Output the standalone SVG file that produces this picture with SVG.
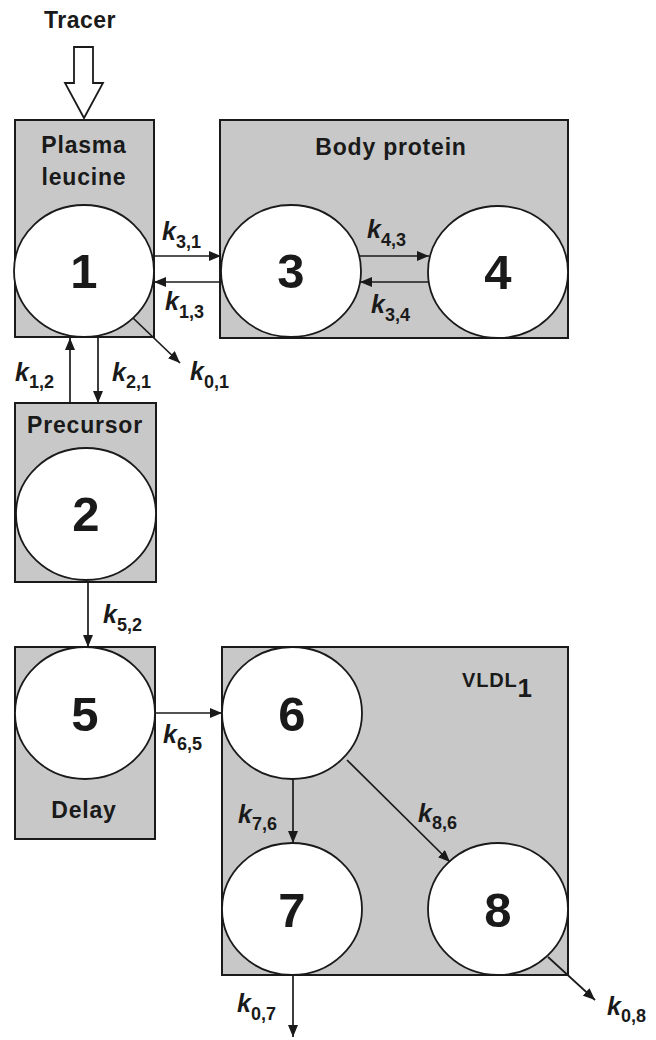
<svg xmlns="http://www.w3.org/2000/svg" width="656" height="1040" viewBox="0 0 656 1040">
<defs>
<marker id="ah" markerUnits="userSpaceOnUse" markerWidth="13" markerHeight="10" refX="12" refY="5" orient="auto">
<path d="M0,0 L12,5 L0,10 Z" fill="#1a1a1a"/>
</marker>
</defs>
<style>
.box{fill:#c8c8c8;stroke:#1a1a1a;stroke-width:2}
.cir{fill:#fff;stroke:#1a1a1a;stroke-width:1.8}
.lbl{font-family:"Liberation Sans",Arial,sans-serif;font-weight:bold;font-size:23px;letter-spacing:0.8px;fill:#1a1a1a;text-anchor:middle}
.num{font-family:"Liberation Sans",Arial,sans-serif;font-weight:bold;font-size:49px;fill:#1a1a1a;text-anchor:middle}
.k{font-family:"Liberation Sans",Arial,sans-serif;font-weight:bold;font-style:italic;font-size:25px;fill:#1a1a1a}
.sub{font-style:normal;font-size:18px}
.con{stroke:#1a1a1a;stroke-width:1.7;fill:none;marker-end:url(#ah)}
</style>
<rect width="656" height="1040" fill="#fff"/>

<g id="tracer">
<text class="lbl" x="80" y="28" style="letter-spacing:0.5px">Tracer</text>
<polygon points="74,47 93,47 93,83 103,83 84,118 65,83 74,83" fill="#fff" stroke="#1a1a1a" stroke-width="1.8"/>
</g>

<g id="plasma-leucine">
<rect class="box" x="15" y="120" width="139" height="217"/>
<text class="lbl" x="84" y="153">Plasma</text>
<text class="lbl" x="84" y="185">leucine</text>
</g>
<g id="body-protein">
<rect class="box" x="220" y="120" width="348" height="218"/>
<text class="lbl" x="391" y="155">Body protein</text>
</g>
<g id="precursor">
<rect class="box" x="15" y="403" width="141" height="179"/>
<text class="lbl" x="85" y="433">Precursor</text>
</g>
<g id="delay">
<rect class="box" x="15" y="647" width="140" height="192"/>
<text class="lbl" x="84" y="818">Delay</text>
</g>
<g id="vldl1">
<rect class="box" x="222" y="647" width="346" height="328"/>
<text class="lbl" x="462" y="687" style="text-anchor:start;font-size:20px">VLDL<tspan dy="10" style="font-size:26px">1</tspan></text>
</g>

<g id="c1"><ellipse class="cir" cx="84" cy="271" rx="70" ry="66"/><text class="num" x="84" y="288">1</text></g>
<g id="c3"><ellipse class="cir" cx="291" cy="271" rx="70" ry="66"/><text class="num" x="291" y="288">3</text></g>
<g id="c4"><ellipse class="cir" cx="498" cy="272" rx="70" ry="66"/><text class="num" x="498" y="289">4</text></g>
<g id="c2"><ellipse class="cir" cx="86" cy="514" rx="70" ry="66"/><text class="num" x="86" y="531">2</text></g>
<g id="c5"><ellipse class="cir" cx="85" cy="713" rx="70" ry="66"/><text class="num" x="85" y="731">5</text></g>
<g id="c6"><ellipse class="cir" cx="292" cy="713" rx="70" ry="66"/><text class="num" x="292" y="731">6</text></g>
<g id="c7"><ellipse class="cir" cx="292" cy="909" rx="70" ry="66"/><text class="num" x="292" y="927">7</text></g>
<g id="c8"><ellipse class="cir" cx="498" cy="909" rx="70" ry="66"/><text class="num" x="498" y="927">8</text></g>

<g id="connectors">
<line class="con" x1="154" y1="256" x2="221" y2="256"/>
<line class="con" x1="221" y1="282" x2="154" y2="282"/>
<line class="con" x1="360" y1="256" x2="429" y2="256"/>
<line class="con" x1="429" y1="282" x2="360" y2="282"/>
<line class="con" x1="133" y1="318" x2="180" y2="363"/>
<line class="con" x1="70" y1="403" x2="70" y2="338"/>
<line class="con" x1="98" y1="338" x2="98" y2="403"/>
<line class="con" x1="88" y1="582" x2="88" y2="647"/>
<line class="con" x1="155" y1="713" x2="222" y2="713"/>
<line class="con" x1="293" y1="779" x2="293" y2="843"/>
<line class="con" x1="347" y1="760" x2="450" y2="862"/>
<line class="con" x1="293" y1="975" x2="293" y2="1037"/>
<line class="con" x1="548" y1="957" x2="595" y2="1000"/>

<text class="k" x="162" y="240">k<tspan class="sub" dy="8">3,1</tspan></text>
<text class="k" x="165" y="310">k<tspan class="sub" dy="8">1,3</tspan></text>
<text class="k" x="367" y="238">k<tspan class="sub" dy="8">4,3</tspan></text>
<text class="k" x="371" y="313">k<tspan class="sub" dy="8">3,4</tspan></text>
<text class="k" x="190" y="380">k<tspan class="sub" dy="8">0,1</tspan></text>
<text class="k" x="15" y="381">k<tspan class="sub" dy="7">1,2</tspan></text>
<text class="k" x="112" y="381">k<tspan class="sub" dy="7">2,1</tspan></text>
<text class="k" x="103" y="623">k<tspan class="sub" dy="8">5,2</tspan></text>
<text class="k" x="163" y="743">k<tspan class="sub" dy="7">6,5</tspan></text>
<text class="k" x="238" y="823">k<tspan class="sub" dy="7">7,6</tspan></text>
<text class="k" x="418" y="822">k<tspan class="sub" dy="7">8,6</tspan></text>
<text class="k" x="237" y="1012">k<tspan class="sub" dy="8">0,7</tspan></text>
<text class="k" x="607" y="1015">k<tspan class="sub" dy="7">0,8</tspan></text>
</g>
</svg>
